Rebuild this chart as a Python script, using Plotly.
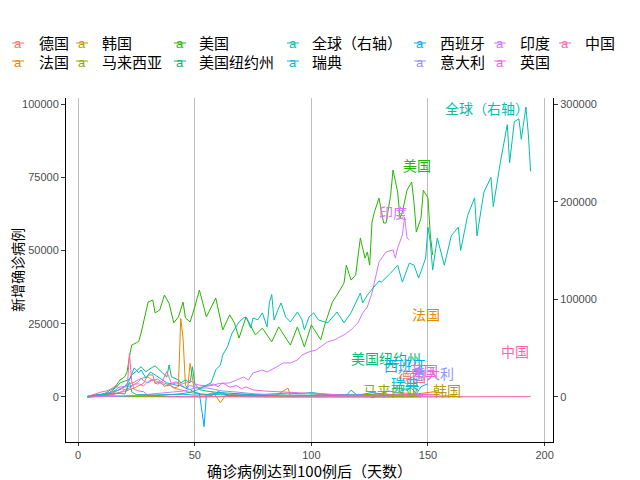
import plotly.graph_objects as go

# ---------------- data ----------------
DE_DAYS = [4, 8, 10, 12, 14, 16, 18, 20, 22, 24, 26, 28, 30, 32, 34, 36, 38, 40, 42, 44, 46, 48, 50, 55, 60, 65, 70, 75, 80, 90, 100, 105, 110, 120, 130, 140, 150]
DE_VALS = [40, 150, 300, 800, 1000, 1800, 2800, 3800, 4500, 5000, 6000, 6500, 6800, 5500, 6100, 5000, 4500, 3800, 2800, 2500, 2000, 1500, 1200, 900, 1200, 700, 600, 500, 400, 350, 500, 1000, 400, 400, 600, 800, 900]

FR_DAYS = [4, 8, 10, 12, 14, 16, 18, 20, 22, 24, 26, 28, 30, 32, 33, 35, 37, 39, 41, 43, 44, 45, 46, 47, 48, 50, 52, 55, 58, 61, 63, 66, 70, 75, 80, 85, 90, 91, 95, 100, 105, 110, 115, 120, 125, 130, 135, 140, 145, 150, 153, 156]
FR_VALS = [40, 200, 300, 600, 800, 1000, 1600, 1800, 2500, 3000, 3800, 4600, 7500, 7500, 4500, 5200, 3500, 4300, 3000, 3500, 26800, 20000, 4000, 3000, 11500, 1500, 1000, 600, 1500, -2000, 400, 800, 300, 500, 300, 600, 3000, 300, 500, 400, 600, 500, 700, 600, 900, 1000, 800, 1300, 1000, 1500, 1800, 1200]

KR_DAYS = [4, 6, 8, 9, 10, 12, 14, 16, 18, 20, 25, 30, 35, 40, 45, 50, 55, 60, 70, 80, 90, 100, 110, 120, 130, 140, 150, 160, 165]
KR_VALS = [200, 500, 800, 900, 600, 500, 400, 250, 150, 100, 100, 100, 80, 50, 30, 10, 10, 5, 20, 30, 40, 50, 40, 60, 50, 30, 40, 50, 30]

MY_DAYS = [4, 6, 8, 10, 12, 14, 16, 18, 20, 22, 25, 30, 35, 40, 45, 50, 55, 60, 65, 70, 80, 90, 100, 110, 120, 130, 147]
MY_VALS = [10, 150, 200, 130, 120, 150, 140, 170, 150, 120, 100, 50, 30, 50, 50, 60, 30, 170, 80, 40, 20, 10, 10, 5, 10, 15, 20]

US_DAYS = [4, 8, 11, 13, 15, 18, 20, 21, 22, 23, 25, 26, 27, 28, 30, 32, 33, 35, 37, 39, 41, 43, 45, 46, 48, 50, 52, 55, 59, 62, 65, 67, 69, 72, 76, 79, 83, 86, 91, 94, 97, 100, 102, 104, 106, 109, 111, 114, 115, 117, 119, 121, 123, 124, 125, 126, 127, 129, 131, 132, 134, 135, 137, 138, 139, 141, 143, 144, 145, 147, 148, 150, 151, 152]
US_VALS = [50, 200, 600, 1200, 2400, 5800, 6900, 8600, 13800, 17700, 18500, 19000, 21800, 25600, 32400, 33100, 28700, 29700, 34800, 32000, 25300, 27300, 32400, 27000, 25600, 30700, 36500, 27300, 33800, 22900, 28000, 25300, 20100, 27300, 21200, 23500, 18800, 23900, 17700, 23900, 17100, 24600, 22000, 19500, 25300, 32400, 34800, 38900, 45000, 39900, 41600, 54300, 47400, 49500, 45000, 59700, 63100, 67900, 59400, 59400, 68900, 77500, 70000, 61100, 63100, 70600, 73400, 66600, 56300, 61100, 70600, 67900, 55300, 48500]

NY_DAYS = [4, 8, 10, 12, 14, 16, 18, 20, 22, 23, 25, 27, 29, 30, 32, 33, 36, 38, 39, 40, 43, 44, 46, 48, 49, 50, 52, 55, 60, 65, 70, 75, 80, 85, 90, 95, 100, 110, 120, 130, 140, 148]
NY_VALS = [50, 300, 800, 1400, 2500, 3000, 4800, 5500, 6000, 7500, 9000, 10300, 8600, 9200, 10200, 10600, 8500, 6800, 10900, 6900, 5800, 4800, 5800, 4800, 10300, 4500, 2500, 2000, 1500, 1200, 1000, 800, 700, 600, 700, 600, 600, 600, 700, 700, 650, 600]

GL_DAYS = [4, 6, 8, 10, 12, 14, 16, 18, 20, 22, 23, 25, 27, 30, 33, 36, 40, 43, 46, 49, 51, 53, 55, 57, 59, 61, 62, 64, 66, 69, 71, 72, 74, 75, 77, 79, 81, 82, 83, 84, 86, 87, 89, 91, 94, 96, 97, 99, 101, 103, 107, 109, 111, 114, 117, 121, 122, 124, 127, 129, 130, 134, 137, 139, 142, 144, 146, 149, 150, 151, 152, 154, 157, 160, 163, 164, 167, 170, 171, 174, 177, 178, 181, 184, 185, 187, 189, 190, 192, 193, 194]
GL_VALS = [450, 900, 2100, 2700, 3300, 3900, 3900, 3600, 3000, 15000, 5100, 2400, 2100, 1800, 1500, 1800, 2100, 3000, 3900, 5400, 7200, 9600, 11400, 14400, 27600, 32700, 42900, 51300, 65400, 76800, 81000, 81900, 70500, 81000, 78900, 86100, 71700, 96300, 105000, 78900, 91200, 96300, 81900, 76800, 87000, 78900, 68700, 81900, 86100, 78900, 75900, 81900, 87000, 75900, 86100, 106500, 96300, 104400, 112500, 118800, 117600, 126900, 135000, 117600, 137100, 135000, 121800, 142200, 174000, 158700, 129900, 162900, 135000, 165000, 174000, 150000, 186000, 204000, 165000, 210000, 225000, 195000, 240000, 279000, 240000, 282000, 285000, 264000, 297000, 270000, 231000]

SE_DAYS = [4, 10, 15, 20, 25, 30, 35, 40, 45, 50, 55, 60, 65, 70, 75, 80, 85, 90, 95, 100, 105, 110, 115, 117, 120, 125, 130, 135, 140, 147]
SE_VALS = [20, 80, 150, 300, 500, 600, 500, 700, 900, 600, 700, 800, 600, 700, 600, 900, 1100, 1300, 1100, 1500, 1000, 700, 500, 2300, 400, 300, 250, 300, 250, 200]

ES_DAYS = [4, 8, 10, 12, 14, 16, 18, 20, 22, 24, 26, 27, 29, 31, 33, 36, 38, 40, 42, 44, 46, 48, 50, 52, 54, 55, 57, 60, 65, 70, 75, 80, 85, 90, 95, 100, 105, 110, 114, 118, 122, 126, 130, 133, 137, 140, 143, 145, 147, 150]
ES_VALS = [50, 300, 600, 1200, 1500, 2000, 2500, 3500, 5800, 9900, 8200, 9200, 6500, 8500, 7500, 5800, 4800, 4500, 4000, 3800, 3000, 2500, 1500, 1200, -10200, 800, 400, 1800, 500, 400, 300, 500, 400, 300, 400, 300, 500, 600, 800, 600, 900, 1500, 1000, 2000, 1500, 2600, 3000, 1000, 3500, 4500]

IT_DAYS = [4, 6, 8, 10, 12, 14, 16, 18, 20, 22, 24, 26, 27, 28, 30, 32, 34, 36, 38, 40, 42, 44, 46, 48, 50, 52, 55, 58, 62, 66, 70, 75, 80, 85, 90, 95, 100, 110, 120, 130, 140, 150, 162]
IT_VALS = [200, 400, 600, 800, 1200, 1500, 2300, 3500, 3400, 3600, 4200, 5300, 6500, 5500, 4800, 5900, 5200, 4300, 3800, 4200, 4800, 4300, 3100, 3900, 3500, 2900, 3100, 2700, 2000, 1800, 1400, 1100, 800, 600, 400, 300, 300, 250, 200, 200, 250, 300, 350]

IN_DAYS = [4, 10, 15, 20, 25, 30, 35, 40, 45, 50, 55, 58, 60, 65, 68, 71, 73, 75, 79, 81, 85, 88, 91, 94, 96, 99, 102, 105, 107, 110, 114, 117, 120, 122, 124, 126, 127, 129, 132, 135, 136, 137, 139, 140, 141, 142]
IN_VALS = [10, 50, 100, 300, 500, 900, 1200, 1500, 2000, 3000, 3500, 4000, 4500, 4800, 5800, 6800, 5800, 8200, 9200, 8500, 10200, 11600, 11600, 12600, 14300, 15400, 16000, 17700, 18800, 19500, 21200, 22900, 25300, 28700, 30700, 35500, 38900, 46100, 49500, 50200, 47400, 50900, 55300, 61400, 54300, 53600]

UK_DAYS = [4, 8, 10, 14, 16, 18, 20, 22, 24, 26, 28, 30, 32, 34, 36, 38, 40, 42, 44, 46, 48, 50, 52, 55, 58, 60, 62, 65, 68, 70, 72, 75, 80, 85, 90, 95, 100, 105, 110, 115, 120, 125, 130, 135, 140, 145, 150, 155]
UK_VALS = [50, 150, 300, 700, 1000, 1500, 2500, 3000, 4300, 4500, 3700, 5300, 5900, 4300, 5200, 8700, 4600, 5200, 4300, 4800, 5600, 4500, 4000, 3800, 4400, 3500, 4800, 3300, 3900, 2800, 3400, 2400, 2000, 1800, 1500, 1200, 1000, 900, 700, 600, 600, 550, 650, 700, 750, 800, 750, 900]

CN_DAYS = [4, 6, 8, 10, 12, 14, 16, 18, 20, 21, 22, 23, 24, 26, 28, 30, 32, 34, 36, 38, 40, 45, 50, 55, 60, 65, 70, 75, 80, 85, 90, 100, 110, 120, 130, 140, 150, 160, 170, 175, 180, 185, 190, 194]
CN_VALS = [150, 700, 1300, 1700, 2000, 2600, 3800, 3000, 2500, 2000, 15000, 5000, 2600, 2000, 1800, 400, 600, 400, 400, 200, 150, 100, 40, 30, 40, 80, 100, 30, 20, 10, 5, 5, 3, 10, 5, 20, 30, 15, 20, 30, 100, 120, 110, 100]

NAMES = ["德国", "法国", "韩国", "马来西亚", "美国", "美国纽约州", "全球（右轴）",
         "瑞典", "西班牙", "意大利", "印度", "英国", "中国"]
DAYS = [DE_DAYS, FR_DAYS, KR_DAYS, MY_DAYS, US_DAYS, NY_DAYS, GL_DAYS,
        SE_DAYS, ES_DAYS, IT_DAYS, IN_DAYS, UK_DAYS, CN_DAYS]
VALS = [DE_VALS, FR_VALS, KR_VALS, MY_VALS, US_VALS, NY_VALS, GL_VALS,
        SE_VALS, ES_VALS, IT_VALS, IN_VALS, UK_VALS, CN_VALS]
COLORS = ["#F8766D", "#E18A00", "#BE9C00", "#8CAB00", "#24B700", "#00BE70", "#00C1AB",
          "#00BBDA", "#00ACFC", "#8B93FF", "#D575FE", "#F962DD", "#FF65AC"]

# label heights (left-axis units) as placed (repelled) in the reference
LABEL_Y = {"德国": 7300, "法国": 28300, "韩国": 2400, "马来西亚": 2400, "美国": 79200,
           "美国纽约州": 13300, "全球（右轴）": 98600, "瑞典": 4800, "西班牙": 10900,
           "意大利": 8200, "印度": 63100, "英国": 9300, "中国": 15700}

X_TICKS = [0, 50, 100, 150, 200]
Y_TICKS = [0, 25000, 50000, 75000, 100000]
Y2_TICKS = [0, 100000, 200000, 300000]

# ---------------- figure ----------------
# page pixel geometry of the plot panel; the page body has an 8px margin
OFF = 8
L, R, T, B = 66, 553, 98, 442
W, H = 640 - OFF, 480 - OFF
CJK = "Noto Sans CJK SC"
TICKFONT = dict(family="Liberation Sans, Arial", size=11, color="#4D4D4D")

def px2x(px):
    return (px - L) / (R - L)

def py2y(py):
    return (B - py) / (B - T)

fig = go.Figure()
for name, d, v, c in zip(NAMES, DAYS, VALS, COLORS):
    on_right = name == "全球（右轴）"
    fig.add_trace(go.Scatter(x=d, y=v, mode="lines", name=name,
                             line=dict(color=c, width=1),
                             yaxis="y2" if on_right else "y",
                             showlegend=False))

annotations = []
shapes = []
# end-of-line labels
for name, d, c in zip(NAMES, DAYS, COLORS):
    on_right = name == "全球（右轴）"
    annotations.append(dict(
        x=d[-1], y=LABEL_Y[name] * (3 if on_right else 1),
        xref="x", yref="y2" if on_right else "y",
        text=name, showarrow=False, xanchor="right", yanchor="middle",
        font=dict(family=CJK, size=14, color=c)))

# legend (column-major, two rows)
key_x = [18, 82, 180, 293, 420, 500, 565]
lab_x = [37, 100, 197, 310, 438, 518, 583]
row_y = [43, 61]
for i, (name, c) in enumerate(zip(NAMES, COLORS)):
    col, row = i // 2, i % 2
    ky = row_y[row]
    shapes.append(dict(type="line", xref="paper", yref="paper",
                       x0=px2x(key_x[col] - 6), x1=px2x(key_x[col] + 6),
                       y0=py2y(ky), y1=py2y(ky),
                       line=dict(color=c, width=1)))
    annotations.append(dict(x=px2x(key_x[col]), y=py2y(ky + 1), xref="paper", yref="paper",
                            text="a", showarrow=False, xanchor="center", yanchor="middle",
                            font=dict(family="Liberation Sans", size=13, color=c)))
    annotations.append(dict(x=px2x(lab_x[col]), y=py2y(ky), xref="paper", yref="paper",
                            text=name, showarrow=False, xanchor="left", yanchor="middle",
                            font=dict(family=CJK, size=15, color="black")))

# axis titles
annotations.append(dict(x=px2x(309), y=py2y(470), xref="paper", yref="paper",
                        text="确诊病例达到100例后（天数）", showarrow=False,
                        xanchor="center", yanchor="middle",
                        font=dict(family=CJK, size=15, color="black")))
annotations.append(dict(x=px2x(17), y=py2y(270), xref="paper", yref="paper",
                        text="新增确诊病例", showarrow=False, textangle=-90,
                        xanchor="center", yanchor="middle",
                        font=dict(family=CJK, size=14, color="black")))

fig.update_layout(
    width=W, height=H,
    margin=dict(l=L - OFF, r=640 - R, t=T - OFF, b=480 - B, pad=0, autoexpand=False),
    plot_bgcolor="white", paper_bgcolor="white",
    showlegend=False,
    annotations=annotations, shapes=shapes,
    xaxis=dict(range=[-5.2, 203.6], tickvals=X_TICKS, showgrid=True,
               gridcolor="#BEBEBE", gridwidth=1, zeroline=False,
               showline=True, linecolor="black", linewidth=1,
               ticks="outside", ticklen=3, tickcolor="#333333",
               tickfont=TICKFONT, automargin=False),
    yaxis=dict(range=[-15400, 102100], tickvals=Y_TICKS, tickformat="d",
               showgrid=False, zeroline=False,
               showline=True, linecolor="black", linewidth=1,
               ticks="outside", ticklen=4, tickcolor="#333333",
               tickfont=TICKFONT, automargin=False),
    yaxis2=dict(range=[-15400 * 3, 102100 * 3], tickvals=Y2_TICKS, tickformat="d",
                overlaying="y", side="right", showgrid=False, zeroline=False,
                showline=True, linecolor="black", linewidth=1,
                ticks="outside", ticklen=4, tickcolor="#333333",
                tickfont=TICKFONT, automargin=False),
)

fig.write_html("out.html")
